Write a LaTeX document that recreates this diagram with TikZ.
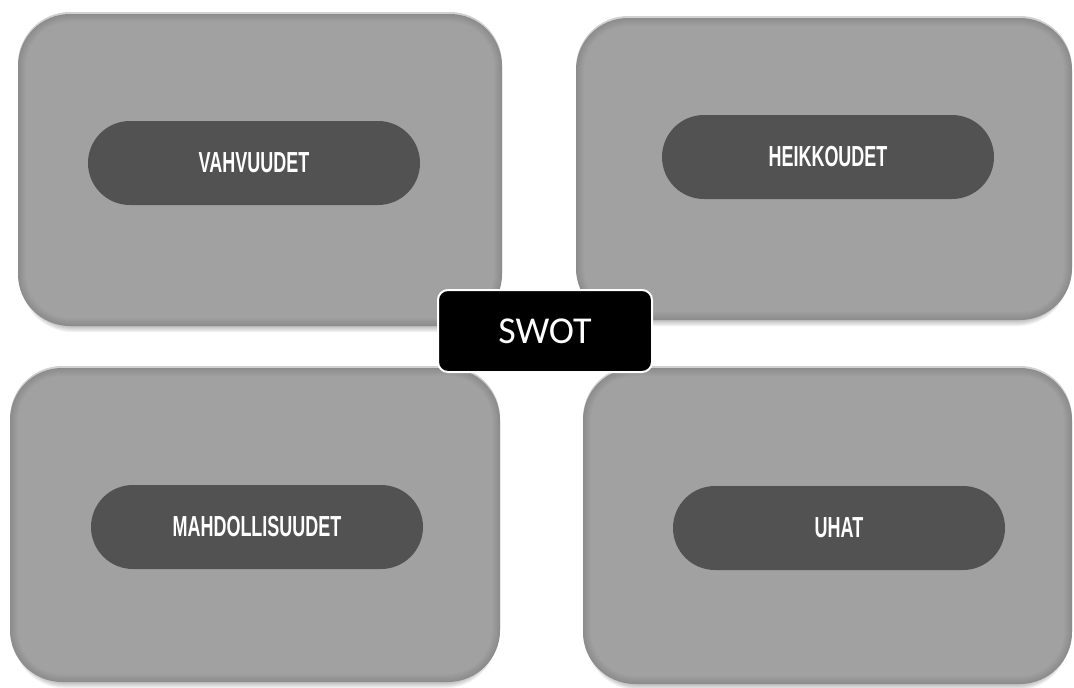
\documentclass[tikz,border=0pt]{standalone}
\usepackage{fontspec}
\setmainfont{Carlito}
\newfontfamily\pillfont[FakeStretch=0.62]{Liberation Sans}
\definecolor{pillgray}{HTML}{525252}
\tikzset{
  pill/.style={rounded corners=42pt, fill=pillgray, minimum width=332pt, minimum height=84pt,
    inner sep=0pt, text=white, font=\pillfont\bfseries\fontsize{29}{30}\selectfont},
  centerbox/.style={rounded corners=10pt, fill=black, draw=white, line width=2pt,
    minimum width=214pt, minimum height=82pt, inner sep=0pt, text=white,
    font=\fontsize{38}{40}\selectfont}
}
\newcommand\quadbox[5]{%
  \foreach \k in {1,...,8}{%
    \fill[black,opacity=0.035,rounded corners=52pt] (#2+3,#3+12) rectangle (#4-3,#5+\k*0.8);}
  \fill[black!18,rounded corners=52pt] (#2,#3) rectangle (#4,#5);
  \foreach \i [evaluate=\i as \c using int(45-\i), evaluate=\i as \r using 52-\i] in {0,...,8}{%
    \fill[black!\c,rounded corners=\r pt] (#2+\i,#3+2+\i) rectangle (#4-\i,#5-\i);}
  \coordinate (#1) at ({(#2+#4)/2},{(#3+#5)/2});
}
\begin{document}
\begin{tikzpicture}[x=1pt,y=-1pt]
\useasboundingbox (0,0) rectangle (1074,688);
\quadbox{sbox}{18}{12}{502}{326}
\quadbox{wbox}{576}{16}{1072}{320}
\quadbox{obox}{10}{366}{500}{682}
\quadbox{tbox}{583}{366}{1072}{684}
\node[pill] (s) at (254,163) {VAHVUUDET};
\node[pill] (w) at (828,157) {HEIKKOUDET};
\node[pill] (o) at (257,527) {MAHDOLLISUUDET};
\node[pill] (t) at (839,528) {UHAT};
\node[centerbox] (swot) at (545,331) {SWOT};
\end{tikzpicture}
\end{document}
